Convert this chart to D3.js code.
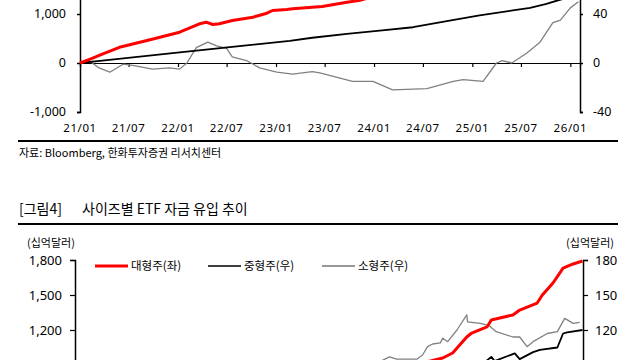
<!DOCTYPE html>
<html><head><meta charset="utf-8">
<script src="https://cdn.jsdelivr.net/npm/d3@7/dist/d3.min.js"></script>
<style>
html,body{margin:0;padding:0;background:#fff;}
svg{display:block;}
.num{font-family:"Noto Sans","DejaVu Sans",sans-serif;fill:#000;}
.kr{font-family:"Noto Sans CJK KR",sans-serif;fill:#000;}
</style></head>
<body>
<svg id="c" width="640" height="360"></svg>
<script>
// ---------- DATA: upper chart (cumulative flows) ----------
const xTickDates = ["2021-01-01","2021-07-01","2022-01-01","2022-07-01","2023-01-01","2023-07-01","2024-01-01","2024-07-01","2025-01-01","2025-07-01","2026-01-01"];
const xTickLabels = ["21/01","21/07","22/01","22/07","23/01","23/07","24/01","24/07","25/01","25/07","26/01"];
const topLeftTicks = [-1000, 0, 1000];
const topLeftTickLabels = ["-1,000", "0", "1,000"];
const topRightTicks = [-40, 0, 40];
const topRightTickLabels = ["-40", "0", "40"];

const topLargeDates = ["2021-01-01","2021-02-08","2021-03-25","2021-05-28","2021-09-19","2022-01-07","2022-03-22","2022-04-16","2022-05-10","2022-06-04","2022-07-22","2022-10-07","2022-11-28","2022-12-19","2023-02-10","2023-03-04","2023-05-16","2023-06-22","2023-09-22","2023-11-10","2024-06-01","2025-01-01","2025-08-01","2026-02-06"];
const topLargeValues = [0,80,180,320,473,628,800,833,786,800,867,935,1016,1071,1092,1105,1140,1153,1240,1280,1600,1900,2250,2500];

const topMidDates = ["2021-01-01","2021-03-25","2022-01-07","2022-07-13","2023-02-21","2023-05-16","2023-09-22","2024-01-22","2024-05-25","2024-09-28","2025-01-28","2025-06-01","2025-08-04","2025-10-04","2025-11-13","2026-02-06"];
const topMidValues = [0,2,8.6,13,18,20.6,23.8,26.5,29.2,34.1,38.8,42.9,45,48.3,51,56];

const topSmallDates = ["2021-01-01","2021-02-07","2021-03-13","2021-04-22","2021-06-10","2021-07-16","2021-09-28","2021-12-01","2022-01-07","2022-02-03","2022-03-10","2022-04-22","2022-05-25","2022-07-01","2022-07-22","2022-09-13","2022-11-01","2023-01-04","2023-03-04","2023-05-16","2023-06-13","2023-10-13","2023-12-28","2024-03-10","2024-07-16","2024-10-22","2024-11-28","2025-02-10","2025-04-01","2025-04-22","2025-05-28","2025-07-22","2025-09-10","2025-10-28","2025-11-25","2026-01-01","2026-01-31"];
const topSmallValues = [0,1.5,-4,-7.5,-1,-2,-5,-4,-5,0,12.5,17,14,12,5,2,-4,-7.5,-9,-7,-8,-15,-15,-22,-21,-15,-13.5,-15,0,2,0,8,17,33,35,45,50];

// ---------- DATA: lower chart (size ETF AUM) ----------
const botLeftTicks = [1200,1500,1800];
const botLeftTickLabels = ["1,200","1,500","1,800"];
const botRightTicks = [120,150,180];
const botRightTickLabels = ["120","150","180"];

const botLargeDates = ["2021-01-01","2022-06-01","2023-06-01","2024-03-01","2024-09-10","2024-10-16","2024-12-07","2024-12-25","2025-02-19","2025-03-07","2025-04-07","2025-05-25","2025-06-19","2025-08-22","2025-09-10","2025-10-19","2025-11-25","2026-01-01","2026-02-04"];
const botLargeValues = [450,600,720,850,960,1003,1140,1174,1226,1286,1303,1329,1371,1431,1500,1603,1731,1766,1791];

const botMidDates = ["2021-01-01","2024-06-01","2025-01-15","2025-02-12","2025-03-07","2025-03-19","2025-06-01","2025-06-19","2025-08-07","2025-09-01","2025-11-04","2025-11-25","2025-12-10","2026-02-04"];
const botMidValues = [50,85,90,92.6,97,93.4,100,95,101,103,105,117,118,120];

const botSmallDates = ["2021-01-01","2023-06-01","2024-01-15","2024-02-28","2024-03-25","2024-06-07","2024-06-28","2024-07-16","2024-08-04","2024-09-01","2024-09-10","2024-09-28","2024-11-01","2024-12-07","2024-12-10","2025-01-25","2025-02-25","2025-03-25","2025-05-25","2025-06-19","2025-07-16","2025-08-07","2025-09-28","2025-11-04","2025-12-01","2026-01-01","2026-01-25"];
const botSmallValues = [60,85,92,97,95,95,98.6,105.7,108,109,113,110,120,133,127,125.7,124,118.6,114,114,105.7,110,117,118.6,130,125.7,126.6];

const legendLabels = ["대형주(좌)","중형주(우)","소형주(우)"];
const seriesColors = ["#ff0000","#000000","#808080"];

// ---------- DRAW ----------
const P = d3.timeParse("%Y-%m-%d");
const svg = d3.select("#c");
svg.append("rect").attr("width",640).attr("height",360).attr("fill","#fff");

const domainX = [P("2021-01-01"), P("2026-02-06")];

function drawLine(g, dates, values, x, y, color, w) {
  const pts = dates.map((d,i) => [P(d), values[i]]);
  g.append("path").datum(pts)
    .attr("fill","none").attr("stroke",color).attr("stroke-width",w)
    .attr("stroke-linejoin","round")
    .attr("d", d3.line().x(p => x(p[0])).y(p => y(p[1])));
}

// ===== upper chart =====
const xT = d3.scaleTime().domain(domainX).range([80, 580]);
const yTL = d3.scaleLinear().domain([-1000, 2000]).range([112, -35]);
const yTR = d3.scaleLinear().domain([-40, 80]).range([112, -35]);
const topG = svg.append("g");

topG.append("g").attr("transform", `translate(0,${yTL(0)})`)
  .call(d3.axisBottom(xT).tickValues(xTickDates.map(P)).tickSize(4).tickFormat(""))
  .call(g => g.select(".domain").attr("stroke","#000").attr("stroke-width",1.2))
  .call(g => g.selectAll(".tick line").attr("stroke","#000").attr("stroke-width",1.2));
topG.selectAll("text.xl").data(xTickDates).join("text")
  .attr("class","num xl").attr("x", d => xT(P(d))).attr("y", 132)
  .attr("text-anchor","middle").attr("font-size",11.5)
  .attr("letter-spacing", 0.6)
  .text((d,i) => xTickLabels[i]);

topG.append("g").attr("transform","translate(80,0)")
  .call(d3.axisLeft(yTL).tickValues(topLeftTicks).tickSize(3).tickFormat(""))
  .call(g => g.select(".domain").attr("stroke","#000").attr("stroke-width",1.5))
  .call(g => g.selectAll(".tick line").attr("stroke","#000").attr("stroke-width",1.5));
topG.selectAll("text.yl").data(topLeftTicks).join("text")
  .attr("class","num yl").attr("x",66).attr("y", d => yTL(d)).attr("dy","0.35em")
  .attr("text-anchor","end").attr("font-size",12.5)
  .text((d,i) => topLeftTickLabels[i]);

topG.append("g").attr("transform","translate(580,0)")
  .call(d3.axisRight(yTR).tickValues(topRightTicks).tickSize(3).tickFormat(""))
  .call(g => g.select(".domain").attr("stroke","#000").attr("stroke-width",1.5))
  .call(g => g.selectAll(".tick line").attr("stroke","#000").attr("stroke-width",1.5));
topG.selectAll("text.yr").data(topRightTicks).join("text")
  .attr("class","num yr").attr("x",593).attr("y", d => yTR(d)).attr("dy","0.35em")
  .attr("text-anchor","start").attr("font-size",12.5)
  .text((d,i) => topRightTickLabels[i]);

drawLine(topG, topSmallDates, topSmallValues, xT, yTR, seriesColors[2], 1.3);
drawLine(topG, topMidDates, topMidValues, xT, yTR, seriesColors[1], 1.8);
drawLine(topG, topLargeDates, topLargeValues, xT, yTL, seriesColors[0], 3);

// source
svg.append("line").attr("x1",18).attr("x2",618).attr("y1",141).attr("y2",141)
  .attr("stroke","#000").attr("stroke-width",2);
svg.append("text").attr("class","kr").attr("x",19).attr("y",157)
  .attr("font-size",11).text("자료: Bloomberg, 한화투자증권 리서치센터");

// ===== lower chart =====
svg.append("text").attr("class","kr").attr("x",19).attr("y",214)
  .attr("font-size",14).text("[그림4]");
svg.append("text").attr("class","kr").attr("x",82).attr("y",214)
  .attr("font-size",14).text("사이즈별 ETF 자금 유입 추이");
svg.append("line").attr("x1",18).attr("x2",618).attr("y1",224).attr("y2",224)
  .attr("stroke","#000").attr("stroke-width",2);

svg.append("text").attr("class","kr").attr("x",27).attr("y",247)
  .attr("font-size",11).text("(십억달러)");
svg.append("text").attr("class","kr").attr("x",614).attr("y",247)
  .attr("text-anchor","end").attr("font-size",11).text("(십억달러)");

const xB = d3.scaleTime().domain(domainX).range([75, 583]);
const yBL = d3.scaleLinear().domain([0, 1800]).range([470, 260]);
const yBR = d3.scaleLinear().domain([0, 180]).range([470, 260]);
const botG = svg.append("g");

botG.append("g").attr("transform","translate(75,0)")
  .call(d3.axisLeft(yBL).tickValues(botLeftTicks).tickSize(5).tickFormat(""))
  .call(g => g.select(".domain").attr("stroke","#000").attr("stroke-width",1.5))
  .call(g => g.selectAll(".tick line").attr("stroke","#000").attr("stroke-width",1.2));
botG.selectAll("text.bl").data(botLeftTicks).join("text")
  .attr("class","num bl").attr("x",62).attr("y", d => yBL(d)).attr("dy","0.35em")
  .attr("text-anchor","end").attr("font-size",13)
  .text((d,i) => botLeftTickLabels[i]);

botG.append("g").attr("transform","translate(583,0)")
  .call(d3.axisRight(yBR).tickValues(botRightTicks).tickSize(5).tickFormat(""))
  .call(g => g.select(".domain").attr("stroke","#000").attr("stroke-width",1.5))
  .call(g => g.selectAll(".tick line").attr("stroke","#000").attr("stroke-width",1.2));
botG.selectAll("text.br").data(botRightTicks).join("text")
  .attr("class","num br").attr("x",595).attr("y", d => yBR(d)).attr("dy","0.35em")
  .attr("text-anchor","start").attr("font-size",13)
  .text((d,i) => botRightTickLabels[i]);

drawLine(botG, botSmallDates, botSmallValues, xB, yBR, seriesColors[2], 1.3);
drawLine(botG, botMidDates, botMidValues, xB, yBR, seriesColors[1], 1.8);
drawLine(botG, botLargeDates, botLargeValues, xB, yBL, seriesColors[0], 3);

const legX = [95, 208, 322];
const legW = [3, 1.5, 1.2];
legendLabels.forEach((lab, i) => {
  botG.append("line").attr("x1", legX[i]).attr("x2", legX[i] + 33)
    .attr("y1", 266).attr("y2", 266)
    .attr("stroke", i === 2 ? "#333" : seriesColors[i]).attr("stroke-width", legW[i]);
  botG.append("text").attr("class","kr").attr("x", legX[i] + 36).attr("y", 266)
    .attr("dy","0.35em").attr("font-size",11.5).text(lab);
});
</script>
</body></html>
